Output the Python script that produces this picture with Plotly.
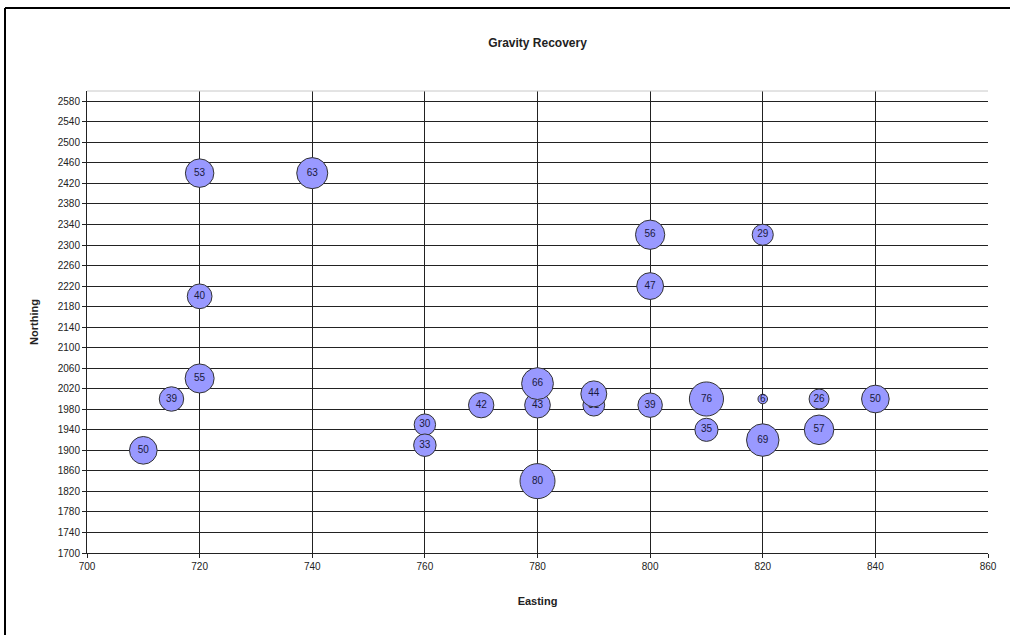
import plotly.graph_objects as go

# Data
easting = [720, 740, 720, 720, 715, 710, 760, 760, 770, 780, 780, 780, 790, 790,
           800, 800, 800, 820, 810, 810, 820, 820, 830, 830, 840]
northing = [2440, 2440, 2200, 2040, 2000, 1900, 1950, 1910, 1988, 1988, 2030, 1840, 1988, 2010,
            1988, 2320, 2220, 2320, 2000, 1940, 2000, 1920, 2000, 1940, 2000]
recovery = [53, 63, 40, 55, 39, 50, 30, 33, 42, 43, 66, 80, 31, 44,
            39, 56, 47, 29, 76, 35, 6, 69, 26, 57, 50]

x_ticks = list(range(700, 861, 20))
y_ticks = list(range(1700, 2581, 40))

max_diam = 35
sizeref = 2.0 * max(recovery) / (max_diam ** 2)

fig = go.Figure()
for e, n, r in zip(easting, northing, recovery):
    fig.add_trace(go.Scatter(
        x=[e], y=[n], mode="markers+text", text=[str(r)],
        textposition="middle center",
        textfont=dict(family="Liberation Sans, Arial", size=10, color="#1a1a40"),
        marker=dict(size=[r], sizemode="area", sizeref=sizeref, sizemin=2,
                    color="#9999ff", opacity=1,
                    line=dict(color="#333333", width=1)),
        showlegend=False, hoverinfo="skip", cliponaxis=False,
    ))

axis_font = dict(family="Liberation Sans, Arial", size=10, color="#222222")

fig.update_layout(
    width=1010, height=635,
    margin=dict(l=87, r=22, t=91, b=82),
    paper_bgcolor="white", plot_bgcolor="white",
    title=dict(text="<b>Gravity Recovery</b>", x=537.5 / 1010, xanchor="center",
               y=1 - 43 / 635, yanchor="middle",
               font=dict(family="Liberation Sans, Arial", size=12, color="#222222")),
    xaxis=dict(range=[700, 860], tickvals=x_ticks, ticktext=[str(v) for v in x_ticks],
               showgrid=True, gridcolor="#222222", gridwidth=1,
               showline=True, linecolor="#222222", linewidth=1,
               ticks="outside", ticklen=4, tickcolor="#222222",
               tickfont=axis_font, zeroline=False,
               title=dict(text="<b>Easting</b>", standoff=26,
                          font=dict(family="Liberation Sans, Arial", size=11, color="#222222"))),
    yaxis=dict(range=[1700, 2600], tickvals=y_ticks, ticktext=[str(v) for v in y_ticks],
               showgrid=True, gridcolor="#222222", gridwidth=1,
               showline=True, linecolor="#222222", linewidth=1,
               ticks="outside", ticklen=4, tickcolor="#222222",
               tickfont=axis_font, zeroline=False,
               title=dict(text="<b>Northing</b>", standoff=16,
                          font=dict(family="Liberation Sans, Arial", size=11, color="#222222"))),
    shapes=[
        # grey top border of plot area
        dict(type="line", xref="paper", yref="paper", x0=0, x1=1, y0=1, y1=1,
             line=dict(color="#c8c8c8", width=1)),
        # outer chart border: left and top edges only (others are cropped off)
        dict(type="line", xref="paper", yref="paper",
             x0=(5 - 87) / 901, x1=(5 - 87) / 901,
             y0=(553 - 700) / 462, y1=(553 - 8) / 462,
             line=dict(color="black", width=2), layer="above"),
        dict(type="line", xref="paper", yref="paper",
             x0=(5 - 87) / 901, x1=(1200 - 87) / 901,
             y0=(553 - 8) / 462, y1=(553 - 8) / 462,
             line=dict(color="black", width=2), layer="above"),
    ],
)

fig.write_html("out.html",
               config={"displayModeBar": False},
               post_script="document.body.style.margin='0';document.body.style.padding='0';")
